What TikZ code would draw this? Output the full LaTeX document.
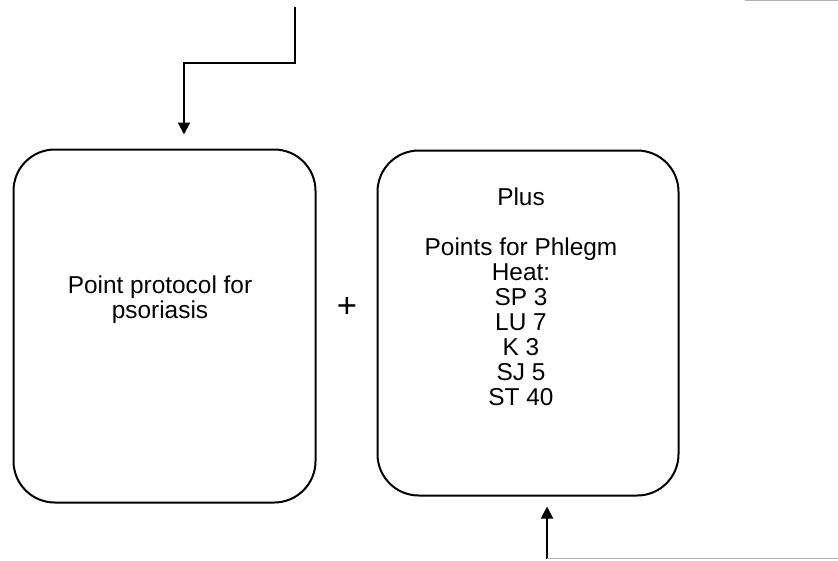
\documentclass[tikz,border=0pt]{standalone}
\usepackage{fontspec}
\setmainfont{Liberation Sans}
\usetikzlibrary{arrows.meta}
\begin{document}
\begin{tikzpicture}[x=0.75pt,y=-0.75pt,
  box/.style={draw=black,line width=1.5pt,rounded corners=31pt,rectangle,inner sep=0pt},
  txt/.style={align=center,font=\fontsize{18.3pt}{18.75pt}\selectfont,inner sep=0pt},
  conn/.style={draw=black,line width=1.5pt,-{Triangle[length=9pt,width=9pt]}},
  faint/.style={draw=black!30,line width=1pt}]
\useasboundingbox (0,0) rectangle (838,560);
\node[box,minimum width=302*0.75pt,minimum height=353*0.75pt] (L) at (164.5,326) {};
\node[box,minimum width=301*0.75pt,minimum height=345*0.75pt] (R) at (528,323) {};
\node[txt] (Lt) at (160,300) {Point protocol for\\psoriasis};
\node[txt] (Rt) at (521,297) {Plus\\[18.75pt]Points for Phlegm\\Heat:\\SP 3\\LU 7\\K 3\\SJ 5\\ST 40};
\node[txt,font=\fontsize{26pt}{28pt}\selectfont] (plus) at (347,307) {+};
\coordinate (t0) at (295,7);
\coordinate (bend) at (184,63);
\draw[conn,shorten >=10.5pt] (t0) |- (bend) -- (bend |- L.north);
\coordinate (b0) at (547,558.5);
\draw[conn,shorten >=7.5pt] (b0) -- (b0 |- R.south);
\coordinate (g1) at (838,558.5);
\draw[faint] (b0) -- (g1);
\coordinate (g2) at (745,0.3);
\coordinate (g3) at (838,0.3);
\draw[faint] (g2) -- (g3);
\end{tikzpicture}
\end{document}
